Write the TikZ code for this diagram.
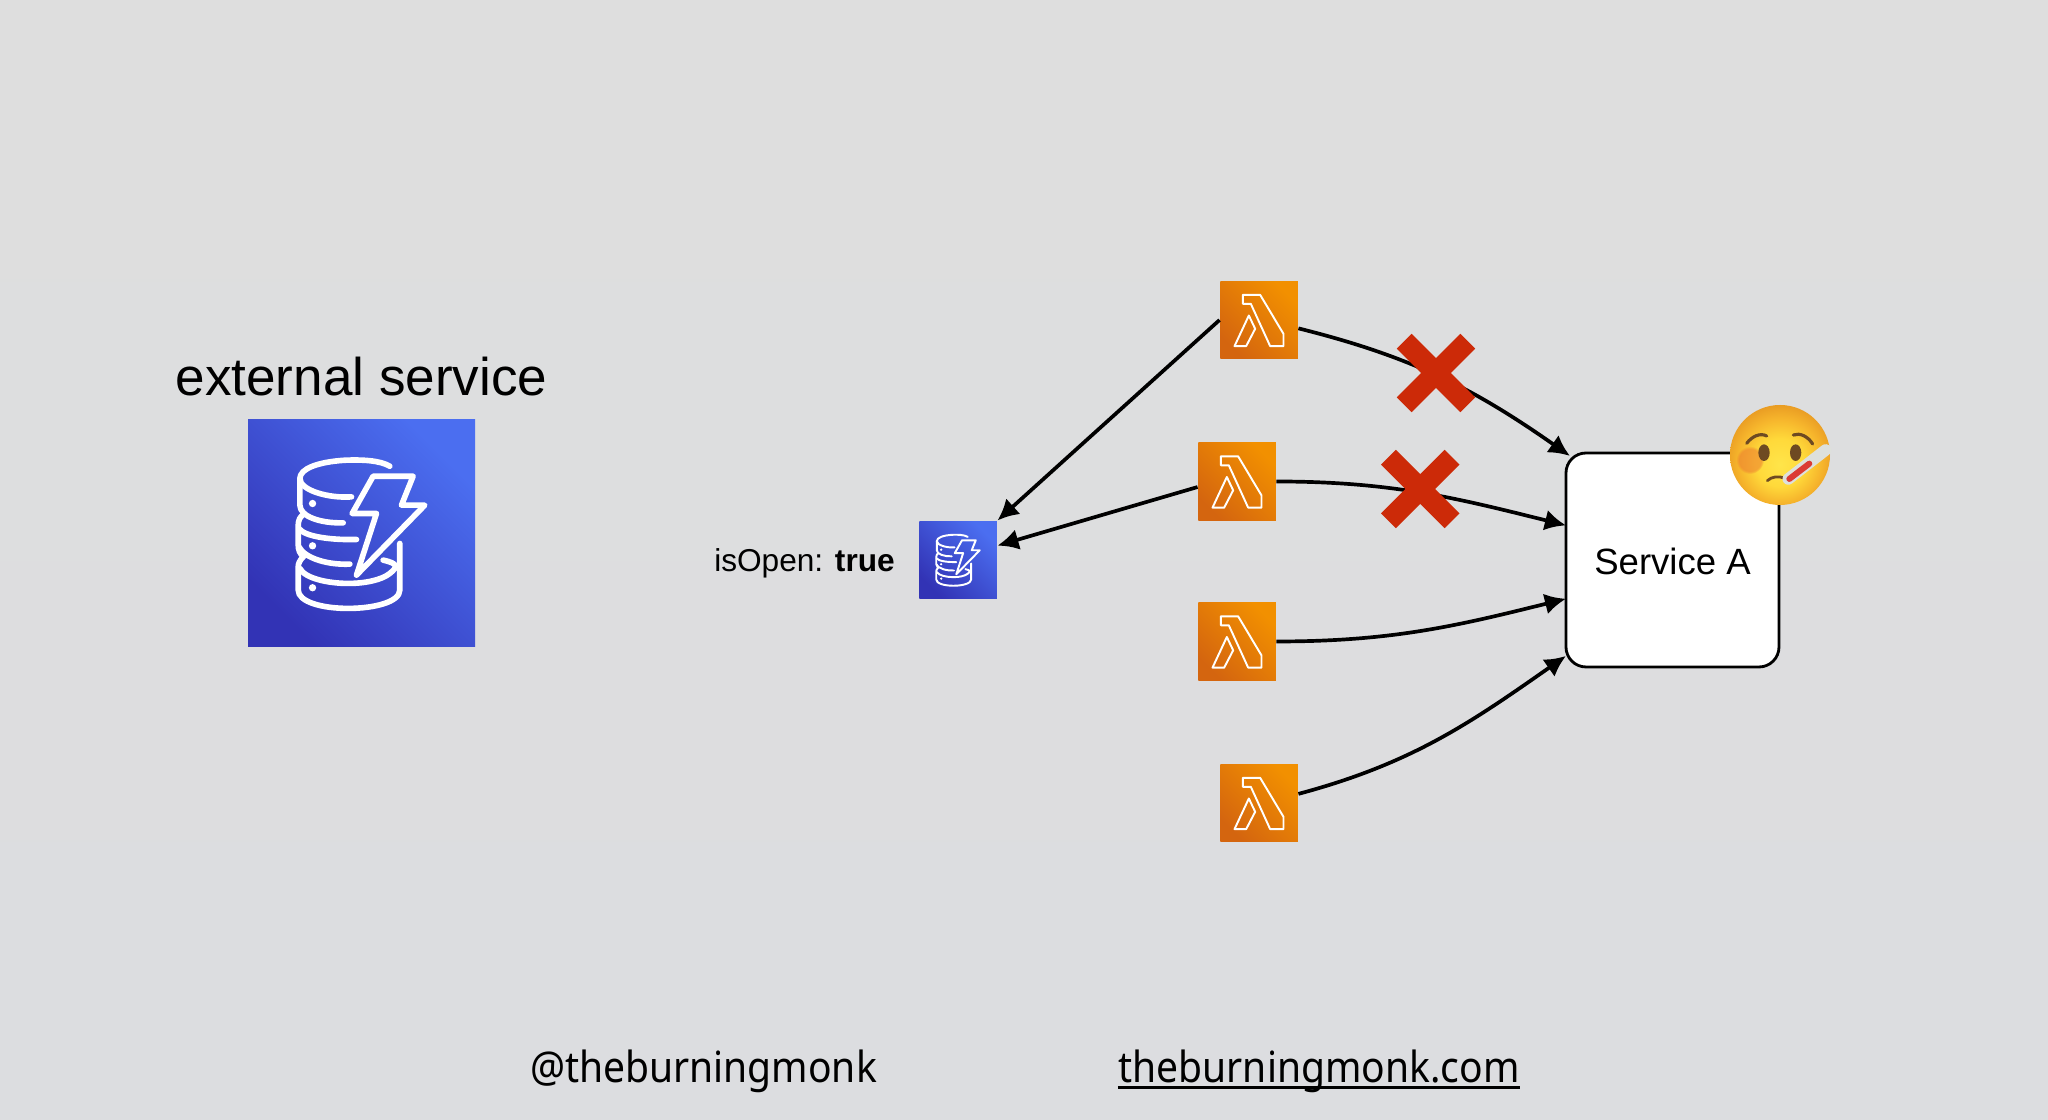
\documentclass[tikz,border=0pt]{standalone}
\usepackage{xcolor}
\usepackage{fontspec}
\setmainfont{Liberation Sans}
\newfontfamily\footfont[FakeStretch=.91]{Noto Sans}
\usetikzlibrary{arrows.meta, shapes.misc, fadings}
\definecolor{bgTop}{HTML}{DEDEDE}
\definecolor{bgBottom}{HTML}{DCDDE0}
\definecolor{dbDark}{HTML}{3233B5}
\definecolor{dbLight}{HTML}{4B6EF0}
\definecolor{lamDark}{HTML}{D4650F}
\definecolor{lamLight}{HTML}{F29000}
\definecolor{crossRed}{HTML}{CC2A08}
\definecolor{faceBrown}{HTML}{6E4A22}
\definecolor{blushOrange}{HTML}{EC7A30}
\definecolor{thermoGrey}{HTML}{DDE0DC}
\definecolor{thermoRed}{HTML}{DB3A34}
\definecolor{faceA}{HTML}{FFE54A}
\definecolor{faceB}{HTML}{FFD93A}
\definecolor{faceC}{HTML}{F6B52C}
\definecolor{faceD}{HTML}{E89A22}
\pgfdeclareradialshading{sickface}{\pgfpoint{0bp}{-5bp}}{color(0bp)=(faceA); color(12bp)=(faceB); color(21bp)=(faceC); color(28bp)=(faceD); color(50bp)=(faceD)}
\tikzset{
    dbicon/.style={shape=rectangle, inner sep=0pt, minimum size=#1, bottom color=dbDark, top color=dbLight, shading angle=-45},
    lamicon/.style={shape=rectangle, inner sep=0pt, minimum size=.775cm, bottom color=lamDark, top color=lamLight, shading angle=-45},
    crossmark/.style={cross out, draw=crossRed, line width=.21cm, inner sep=0pt, outer sep=0pt, minimum size=.636cm},
    flow/.style={line width=1.05pt, -{Latex[length=6pt,width=6pt]}},
    pics/dbglyph/.style={code={
        \draw[white, line join=round, line cap=round] (.85,2.02) .. controls (.55,2.2) and (0,2.22) .. (-.5,2.2) .. controls (-1.3,2.15) and (-1.85,1.95) .. (-1.85,1.65) .. controls (-1.85,1.3) and (-1,1.05) .. (-.3,1.1);
        \draw[white, line join=round, line cap=round] (-1.85,1.65) -- (-1.85,.85) .. controls (-1.85,.5) and (-1.2,.3) .. (-.55,.32);
        \draw[white, line join=round, line cap=round] (-1.72,.6) .. controls (-1.85,.5) and (-1.9,.4) .. (-1.9,.25) -- (-1.9,-.35) .. controls (-1.9,-.5) and (-1.85,-.6) .. (-1.75,-.7);
        \draw[white, line join=round, line cap=round] (-1.88,.15) .. controls (-1.7,-.1) and (-.9,-.2) .. (-.15,-.18);
        \draw[white, line join=round, line cap=round] (-1.88,-.4) .. controls (-1.7,-.75) and (-1,-.95) .. (-.35,-.92);
        \draw[white, line join=round, line cap=round] (-1.75,-.7) .. controls (-1.85,-.8) and (-1.9,-.9) .. (-1.9,-1) -- (-1.9,-1.7) .. controls (-1.9,-2.05) and (-1.2,-2.25) .. (-.4,-2.25) .. controls (.4,-2.25) and (1.15,-2.05) .. (1.15,-1.7) -- (1.15,-.3);
        \draw[white, line join=round, line cap=round] (-1.85,-1.05) .. controls (-1.7,-1.35) and (-1,-1.5) .. (-.4,-1.5) .. controls (.1,-1.5) and (.6,-1.4) .. (.85,-1.2) .. controls (1.1,-1) and (1.1,-.9) .. (.65,-.8);
        \draw[white, line join=round] (.35,1.72) -- (1.55,1.72) -- (1.2,.85) -- (1.9,.85) -- (-.15,-1.25) -- (.45,.6) -- (-.28,.6) -- cycle;
        \fill[white] (-1.47,.9) circle (.11) (-1.47,-.37) circle (.11) (-1.47,-1.63) circle (.11);
    }},
    pics/lamglyph/.style={code={
        \draw[white, line width=.55pt, line join=round] (-.485,.755) -- (.035,.755) -- (.735,-.415) -- (.735,-.785) -- (.335,-.785) -- (-.245,.485) -- (-.485,.485) -- cycle;
        \draw[white, line width=.55pt, line join=round] (-.305,.135) -- (-.115,-.265) -- (-.385,-.785) -- (-.735,-.785) -- cycle;
    }}
}
\begin{document}
\begin{tikzpicture}
    \shade[top color=bgTop, bottom color=bgBottom] (0,0) rectangle (20.48,11.2);
    \useasboundingbox (0,0) rectangle (20.48,11.2);

    \node[dbicon=2.27cm] (dbBig) at (3.615,5.865) {};
    \node[dbicon=.775cm] (dbSmall) at (9.58,5.6) {};
    \node[lamicon] (lamA) at (12.59,8.0) {};
    \node[lamicon] (lamB) at (12.37,6.385) {};
    \node[lamicon] (lamC) at (12.37,4.785) {};
    \node[lamicon] (lamD) at (12.59,3.17) {};
    \node[draw, fill=white, line width=.8pt, rounded corners=.2cm, minimum width=2.13cm, minimum height=2.14cm, inner sep=0pt, outer sep=0pt] (svc) at (16.725,5.6) {};

    \pic[scale=.333, line width=1.6pt] at (dbBig) {dbglyph};
    \pic[scale=.1145, line width=.55pt] at (dbSmall) {dbglyph};
    \pic[scale=.333] at (lamA) {lamglyph};
    \pic[scale=.333] at (lamB) {lamglyph};
    \pic[scale=.333] at (lamC) {lamglyph};
    \pic[scale=.333] at (lamD) {lamglyph};

    \node[anchor=base, inner sep=0pt, font=\fontsize{15.1}{18}\selectfont] (extLabel) at (3.615,7.245) {external service};
    \node[anchor=base, inner sep=0pt, font=\fontsize{9}{11}\selectfont] (openLabel) at (8.045,5.48) {isOpen: \textbf{true}};
    \node[anchor=base, inner sep=0pt, font=\fontsize{10.4}{12}\selectfont] (svcLabel) at (16.725,5.45) {Service A};
    \node[anchor=base, inner sep=0pt, font=\footfont\fontsize{12.2}{16}\selectfont] (handle) at (7.035,.37) {@theburningmonk};
    \node[anchor=base, inner sep=0pt, font=\footfont\fontsize{12.2}{16}\selectfont] (site) at (13.19,.37) {theburningmonk.com};
    \draw[line width=.7pt] ([yshift=-1.3pt]site.base west) -- ([yshift=-1.3pt]site.base east);

    \draw[flow] (lamA.west) -- (dbSmall.north east);
    \draw[flow] (lamB.188) -- (dbSmall.20);
    \draw[flow] (lamA.-12) to[out=-14, in=145] ([shift={(.04,-.03)}]svc.north west);
    \draw[flow] (lamB.east) to[out=0, in=166] (svc.162);
    \draw[flow] (lamC.east) to[out=0, in=194] (svc.200);
    \draw[flow] (lamD.13) to[out=15, in=215] (svc.222);

    \node[crossmark] (crossA) at (14.36,7.47) {};
    \node[crossmark] (crossB) at (14.203,6.31) {};

    \node[circle, inner sep=0pt, minimum size=1cm, shading=sickface] (face) at (17.8,6.65) {};
    \begin{scope}[shift={(face.center)}, scale=.333]
        \fill[blushOrange, opacity=.55, path fading=circle with fuzzy edge 20 percent] (-.9,-.15) circle (.42);
        \draw[faceBrown, line width=.9pt, line cap=round] (-1,.35) .. controls (-.85,.55) and (-.6,.68) .. (-.4,.57);
        \draw[faceBrown, line width=.9pt, line cap=round] (.4,.6) .. controls (.6,.68) and (.85,.55) .. (.98,.33);
        \fill[faceBrown] (-.48,.07) ellipse (.17 and .25);
        \fill[faceBrown] (.47,.07) ellipse (.17 and .25);
        \draw[faceBrown, line width=.8pt, line cap=round] (-.38,-.77) .. controls (-.25,-.65) and (-.05,-.62) .. (.15,-.7);
        \draw[thermoGrey, line width=3.3pt, line cap=round] (.25,-.72) -- (1.37,.15);
        \draw[thermoRed, line width=1.7pt, line cap=round] (.28,-.72) -- (.88,-.26);
    \end{scope}
\end{tikzpicture}
\end{document}
